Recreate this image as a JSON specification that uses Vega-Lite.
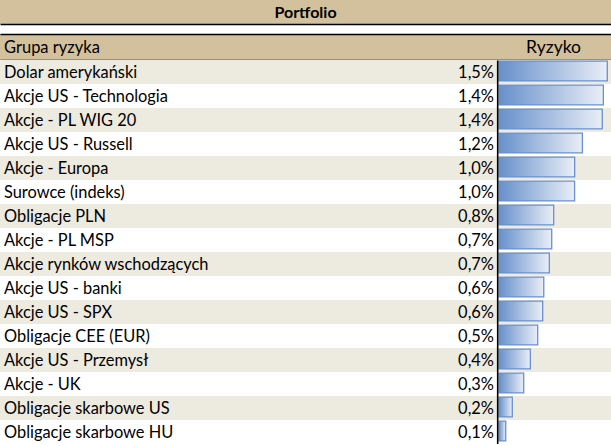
{
  "$schema": "https://vega.github.io/schema/vega-lite/v6.json",
  "padding": 0,
  "background": "white",
  "config": {
    "view": {"stroke": null},
    "locale": {"number": {"decimal": ",", "thousands": " ", "grouping": [3], "currency": ["", " zł"]}},
    "text": {"font": "Lato", "color": "black"}
  },
  "datasets": {
    "risk": [
      {"name": "Dolar amerykański", "value": 0.0150},
      {"name": "Akcje US - Technologia", "value": 0.01445},
      {"name": "Akcje - PL WIG 20", "value": 0.0143},
      {"name": "Akcje US - Russell", "value": 0.01155},
      {"name": "Akcje - Europa", "value": 0.01048},
      {"name": "Surowce (indeks)", "value": 0.01047},
      {"name": "Obligacje PLN", "value": 0.00757},
      {"name": "Akcje - PL MSP", "value": 0.0073},
      {"name": "Akcje rynków wschodzących", "value": 0.00697},
      {"name": "Akcje US - banki", "value": 0.0062},
      {"name": "Akcje US - SPX", "value": 0.00605},
      {"name": "Obligacje CEE (EUR)", "value": 0.00536},
      {"name": "Akcje US - Przemysł", "value": 0.00434},
      {"name": "Akcje - UK", "value": 0.00342},
      {"name": "Obligacje skarbowe US", "value": 0.00184},
      {"name": "Obligacje skarbowe HU", "value": 0.00093}
    ]
  },
  "spacing": 10,
  "vconcat": [
    {
      "width": 611,
      "height": 24,
      "view": {"fill": "#D3C19D", "stroke": null},
      "data": {"values": [{"t": "Portfolio"}]},
      "mark": {"type": "text", "fontWeight": "bold", "fontSize": 16, "align": "center", "baseline": "middle", "dy": 1},
      "encoding": {
        "text": {"field": "t"},
        "x": {"datum": -0.0268, "type": "quantitative",
              "scale": {"domain": [-0.069114, 0.015512], "zero": false, "nice": false},
              "axis": {"orient": "bottom", "domain": true, "domainColor": "black", "domainWidth": 1.5, "ticks": false, "labels": false, "grid": false, "title": null}}
      }
    },
    {
      "spacing": 0,
      "vconcat": [
        {
          "width": 611,
          "height": 26,
          "view": {"fill": "#D3C19D", "stroke": null},
          "data": {"values": [{"a": "Grupa ryzyka", "b": "Ryzyko"}]},
          "layer": [
            {
              "mark": {"type": "text", "fontSize": 16.5, "align": "left", "baseline": "middle", "dy": 1},
              "encoding": {
                "text": {"field": "a"},
                "x": {"datum": -0.06856, "type": "quantitative",
                      "scale": {"domain": [-0.069114, 0.015512], "zero": false, "nice": false},
                      "axis": {"orient": "top", "domain": true, "domainColor": "black", "domainWidth": 1.5, "ticks": false, "labels": false, "grid": false, "title": null}}
              }
            },
            {
              "mark": {"type": "text", "fontSize": 17.5, "align": "center", "baseline": "middle", "dy": 1},
              "encoding": {
                "text": {"field": "b"},
                "x": {"datum": 0.007548, "type": "quantitative"}
              }
            }
          ]
        },
        {
          "width": 611,
          "height": 384,
          "data": {"name": "risk"},
          "transform": [
            {"window": [{"op": "row_number", "as": "rn"}]}
          ],
          "encoding": {
            "y": {"field": "name", "type": "nominal",
                  "scale": {"domain": ["Dolar amerykański", "Akcje US - Technologia", "Akcje - PL WIG 20", "Akcje US - Russell", "Akcje - Europa", "Surowce (indeks)", "Obligacje PLN", "Akcje - PL MSP", "Akcje rynków wschodzących", "Akcje US - banki", "Akcje US - SPX", "Obligacje CEE (EUR)", "Akcje US - Przemysł", "Akcje - UK", "Obligacje skarbowe US", "Obligacje skarbowe HU"], "paddingInner": 0, "paddingOuter": 0},
                  "axis": {"orient": "left", "offset": -497.2, "domain": true, "domainColor": "black", "domainWidth": 1.6, "ticks": false, "labels": false, "grid": false, "title": null, "zindex": 1}}
          },
          "layer": [
            {
              "transform": [{"filter": "datum.rn % 2 == 1"}],
              "mark": {"type": "rect", "color": "#EDEAE0"},
              "encoding": {}
            },
            {
              "mark": {"type": "bar", "height": {"band": 0.83}, "yOffset": -1, "stroke": "#6A91CD", "strokeWidth": 1.3,
                       "fill": {"gradient": "linear", "x1": 0, "y1": 0, "x2": 1, "y2": 0,
                                "stops": [{"offset": 0, "color": "#6790CB"}, {"offset": 1, "color": "#E9EEF7"}]}},
              "encoding": {
                "x": {"field": "value", "type": "quantitative",
                      "scale": {"domain": [-0.069114, 0.015512], "zero": false, "nice": false},
                      "axis": {"orient": "top", "domain": true, "domainColor": "black", "domainWidth": 1.5, "ticks": false, "labels": false, "grid": false, "title": null}}
              }
            },
            {
              "mark": {"type": "text", "fontSize": 16.4, "align": "left", "baseline": "middle", "dy": 1},
              "encoding": {
                "text": {"field": "name"},
                "x": {"datum": -0.06856, "type": "quantitative"}
              }
            },
            {
              "mark": {"type": "text", "fontSize": 16.4, "align": "right", "baseline": "middle", "dy": 1},
              "encoding": {
                "text": {"field": "value", "format": ".1%"},
                "x": {"datum": -0.000693, "type": "quantitative"}
              }
            }
          ]
        }
      ]
    }
  ]
}
